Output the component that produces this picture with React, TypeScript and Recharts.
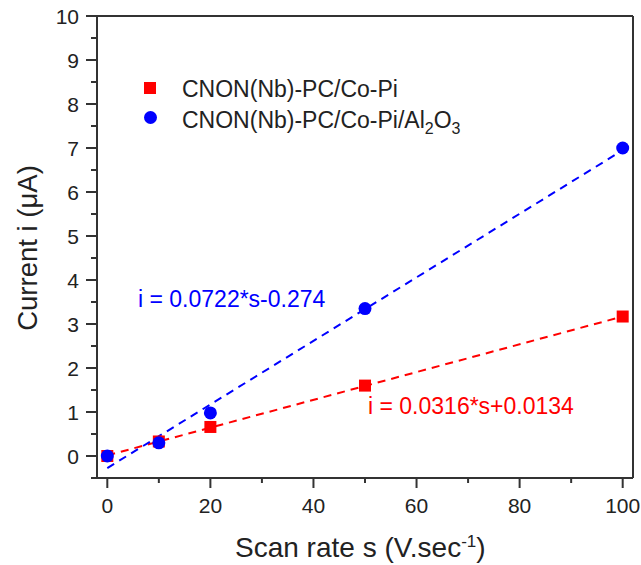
import { ComposedChart, XAxis, YAxis, Scatter, Line, ReferenceLine } from "recharts"

const redPoints = [
  { s: 0, i: 0 },
  { s: 10, i: 0.33 },
  { s: 20, i: 0.66 },
  { s: 50, i: 1.6 },
  { s: 100, i: 3.17 },
]
const bluePoints = [
  { s: 0, i: 0 },
  { s: 10, i: 0.3 },
  { s: 20, i: 0.98 },
  { s: 50, i: 3.35 },
  { s: 100, i: 7.0 },
]
// fitted lines, end points
const redFit = [
  { s: 0, i: 0.0134 },
  { s: 100, i: 3.17 },
]
const blueFit = [
  { s: 0, i: -0.274 },
  { s: 100, i: 6.95 },
]
const xTicks = [0, 10, 20, 30, 40, 50, 60, 70, 80, 90, 100]
const yTicks = [-0.5, 0, 0.5, 1, 1.5, 2, 2.5, 3, 3.5, 4, 4.5, 5, 5.5, 6, 6.5, 7, 7.5, 8, 8.5, 9, 9.5, 10]

const FONT = "'Liberation Sans', Arial, sans-serif"
const AXIS = "#333"

function YTick(props: any) {
  const { x, y, payload } = props
  const v = payload.value
  const major = Number.isInteger(v)
  const len = major ? 11 : 6
  return (
    <g>
      <line x1={x} x2={x - len} y1={y} y2={y} stroke={AXIS} strokeWidth={2} />
      {major && (
        <text x={x - 18} y={y} dy={7.5} textAnchor="end" fontSize={21} fill="#222" fontFamily={FONT}>
          {v}
        </text>
      )}
    </g>
  )
}

function XTick(props: any) {
  const { x, y, payload } = props
  const v = payload.value
  const major = v % 20 === 0
  const len = major ? 10 : 5
  return (
    <g>
      <line x1={x} x2={x} y1={y} y2={y + len} stroke={AXIS} strokeWidth={2} />
      {major && (
        <text x={x} y={y + 35} textAnchor="middle" fontSize={21} fill="#222" fontFamily={FONT}>
          {v}
        </text>
      )}
    </g>
  )
}

const square = (p: any) => <rect x={p.cx - 6} y={p.cy - 6} width={12} height={12} fill="#ff0000" />
const circle = (p: any) => <circle cx={p.cx} cy={p.cy} r={6.5} fill="#0000ff" />

export default function App() {
  return (
    <div style={{ position: "absolute", left: 0, top: 0, width: 641, height: 565, background: "#fff", fontFamily: FONT }}>
      <ComposedChart width={641} height={565} margin={{ top: 16, right: 8, bottom: 47, left: 37 }}>
        <XAxis
          type="number"
          dataKey="s"
          domain={[-2, 102]}
          ticks={xTicks}
          interval={0}
          height={40}
          tickSize={0}
          tickMargin={0}
          tickLine={false}
          tick={<XTick />}
          axisLine={{ stroke: AXIS, strokeWidth: 2 }}
        />
        <YAxis
          type="number"
          dataKey="i"
          domain={[-0.5, 10]}
          ticks={yTicks}
          interval={0}
          width={60}
          tickSize={0}
          tickMargin={0}
          tickLine={false}
          tick={<YTick />}
          axisLine={{ stroke: AXIS, strokeWidth: 2 }}
        />
        <ReferenceLine y={10} stroke={AXIS} strokeWidth={2} ifOverflow="visible" />
        <ReferenceLine x={102} stroke={AXIS} strokeWidth={2} ifOverflow="visible" />
        <Line data={redFit} dataKey="i" stroke="#ff0000" strokeWidth={2} strokeDasharray="8 6" dot={false} isAnimationActive={false} />
        <Line data={blueFit} dataKey="i" stroke="#0000ff" strokeWidth={2} strokeDasharray="8 6" dot={false} isAnimationActive={false} />
        <Scatter data={redPoints} dataKey="i" shape={square} isAnimationActive={false} />
        <Scatter data={bluePoints} dataKey="i" shape={circle} isAnimationActive={false} />
      </ComposedChart>

      {/* legend */}
      <div style={{ position: "absolute", left: 144, top: 82, width: 12, height: 12, background: "#ff0000" }} />
      <div style={{ position: "absolute", left: 143.5, top: 110.5, width: 13, height: 13, borderRadius: "50%", background: "#0000ff" }} />
      <div style={{ position: "absolute", left: 182, top: 76, fontSize: 23, color: "#222", whiteSpace: "nowrap", lineHeight: "normal" }}>
        CNON(Nb)-PC/Co-Pi
      </div>
      <div style={{ position: "absolute", left: 182, top: 107, fontSize: 23, color: "#222", whiteSpace: "nowrap", lineHeight: "normal" }}>
        CNON(Nb)-PC/Co-Pi/Al<sub style={{ fontSize: 16, lineHeight: 0 }}>2</sub>O<sub style={{ fontSize: 16, lineHeight: 0 }}>3</sub>
      </div>

      {/* fit equations */}
      <div style={{ position: "absolute", left: 138, top: 286, fontSize: 23, color: "#0000ff", whiteSpace: "nowrap" }}>
        i = 0.0722*s-0.274
      </div>
      <div style={{ position: "absolute", left: 368, top: 393, fontSize: 23, color: "#ff0000", whiteSpace: "nowrap" }}>
        i = 0.0316*s+0.0134
      </div>

      {/* axis titles */}
      <div style={{ position: "absolute", left: 235, top: 532, fontSize: 28, color: "#222", whiteSpace: "nowrap", lineHeight: "normal" }}>
        Scan rate s (V.sec<sup style={{ fontSize: 17, lineHeight: 0 }}>-1</sup>)
      </div>
      <div
        style={{
          position: "absolute",
          left: 28,
          top: 248,
          fontSize: 27.5,
          color: "#222",
          whiteSpace: "nowrap",
          transform: "translate(-50%, -50%) rotate(-90deg)",
        }}
      >
        Current i (μA)
      </div>
    </div>
  )
}
